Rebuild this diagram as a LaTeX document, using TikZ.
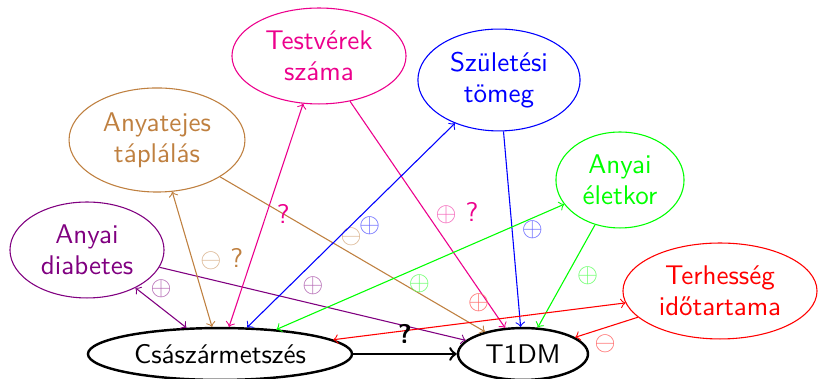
\documentclass[tikz,border=0pt]{standalone}
\usepackage{amsmath, amssymb}
\usepackage{tikz}
\usetikzlibrary{shapes.geometric}

\definecolor{pinkc}{RGB}{236,0,140}

\newcommand{\poseff}[1]{\textcolor{#1!60}{$\oplus$}}
\newcommand{\negeff}[1]{\textcolor{#1!60}{$\ominus$}}

\tikzset{
    var/.style={ellipse, draw, align=center, inner sep=0pt, font=\sffamily\fontsize{10}{11.5}\selectfont},
    lbl/.style={inner sep=0pt, font=\sffamily\fontsize{10}{11.5}\selectfont}
}

\begin{document}
\begin{tikzpicture}[x=0.37pt, y=-0.37pt]
    \useasboundingbox (0,0) rectangle (818,379);

    \node[var, line width=0.9pt, minimum width=97.7pt, minimum height=19.2pt] (cs) at (220,354) {Császármetszés};
    \node[var, line width=0.9pt, minimum width=48.1pt, minimum height=19.2pt] (t1) at (523,354) {T1DM};
    \node[var, violet, minimum width=57pt, minimum height=35.5pt] (diab) at (87,250) {Anyai\\diabetes};
    \node[var, brown, minimum width=65.1pt, minimum height=38.5pt] (tej) at (157,140) {Anyatejes\\táplálás};
    \node[var, pinkc, minimum width=64.4pt, minimum height=35.5pt] (testv) at (319,56) {Testvérek\\száma};
    \node[var, blue, minimum width=60pt, minimum height=37.7pt] (szul) at (499,80) {Születési\\tömeg};
    \node[var, green, minimum width=47.4pt, minimum height=35.5pt] (kor) at (620,180) {Anyai\\életkor};
    \node[var, red, minimum width=71.8pt, minimum height=35.5pt] (terh) at (720,291) {Terhesség\\időtartama};

    % anyai diabetes
    \draw[violet, <->] (cs) -- (diab) node[lbl, pos=0.678, xshift=3.4pt, yshift=4.3pt] {\poseff{violet}};
    \draw[violet, ->] (diab) -- (t1) node[lbl, pos=0.488, xshift=1.5pt, yshift=6.3pt] {\poseff{violet}};

    % anyatejes taplalas
    \draw[brown, <->] (cs) -- (tej) node[lbl, pos=0.443, xshift=10.1pt, yshift=2.9pt] {\negeff{brown} ?};
    \draw[brown, ->] (tej) -- (t1) node[lbl, pos=0.467, xshift=2.7pt, yshift=4.6pt] {\negeff{brown}};

    % testverek szama
    \draw[pinkc, <->] (cs) -- (testv) node[lbl, pos=0.527, xshift=5.6pt, yshift=-1.9pt] {?};
    \draw[pinkc, ->] (testv) -- (t1) node[lbl, pos=0.556, xshift=7.7pt, yshift=5.3pt] {\poseff{pinkc} ?};

    % szuletesi tomeg
    \draw[blue, <->] (cs) -- (szul) node[lbl, pos=0.545, xshift=3.4pt, yshift=-3.4pt] {\poseff{blue}};
    \draw[blue, ->] (szul) -- (t1) node[lbl, pos=0.51, xshift=7.5pt, yshift=0.6pt] {\poseff{blue}};

    % anyai eletkor
    \draw[green, <->] (cs) -- (kor) node[lbl, pos=0.475, xshift=2.3pt, yshift=-5.1pt] {\poseff{green}};
    \draw[green, ->] (kor) -- (t1) node[lbl, pos=0.413, xshift=6pt, yshift=-3.3pt] {\poseff{green}};

    % terhesseg idotartama
    \draw[red, <->] (cs) -- (terh) node[lbl, pos=0.506, xshift=-0.9pt, yshift=6.8pt] {\poseff{red}};
    \draw[red, ->] (terh) -- (t1) node[lbl, pos=0.6, xshift=1.8pt, yshift=-5.3pt] {\negeff{red}};

    % csaszarmetszes -> T1DM
    \draw[line width=0.9pt, ->] (cs) -- (t1) node[lbl, pos=0.5, yshift=7.4pt] {\textbf{?}};
\end{tikzpicture}
\end{document}
